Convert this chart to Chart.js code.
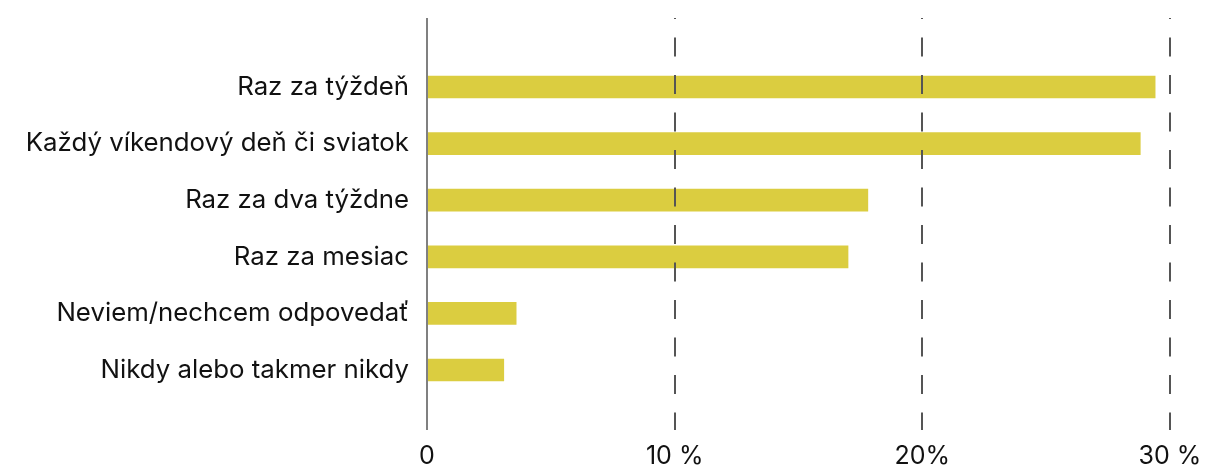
<!DOCTYPE html>
<html lang="sk">
<head>
  <meta charset="UTF-8">
  <title>Frekvencia</title>
  <script src="https://cdn.jsdelivr.net/npm/chart.js"></script>
  <style>
    html, body {
      margin: 0;
      padding: 0;
      background: #fff;
    }
    .wrap {
      width: 1215px;
      height: 470px;
      position: relative;
    }
  </style>
</head>
<body>
  <div class="wrap">
    <canvas id="graf"></canvas>
  </div>

  <script>
    const kategorie = [
      'Raz za týždeň',
      'Každý víkendový deň či sviatok',
      'Raz za dva týždne',
      'Raz za mesiac',
      'Neviem/nechcem odpovedať',
      'Nikdy alebo takmer nikdy'
    ];
    const hodnoty = [29.4, 28.8, 17.8, 17.0, 3.6, 3.1];
    const osX = { 0: '0', 10: '10 %', 20: '20%', 30: '30 %' };

    const pismo = 'Inter, "Noto Sans", sans-serif';

    // mriezka ide cez celu vysku, nie len cez plochu grafu
    const mriezka = {
      id: 'mriezka',
      afterDatasetsDraw(chart) {
        const ctx = chart.ctx;
        const x = chart.scales.x;
        const hore = 18, dole = 430;
        ctx.save();
        ctx.beginPath();
        ctx.rect(0, hore, chart.width, dole - hore);
        ctx.clip();
        x.ticks.forEach(t => {
          const px = Math.round(x.getPixelForValue(t.value));
          ctx.beginPath();
          if (t.value === 0) {
            ctx.setLineDash([]);
            ctx.strokeStyle = '#808080';
          } else {
            ctx.setLineDash([19, 18.5]);
            ctx.strokeStyle = '#555';
          }
          ctx.lineWidth = 2;
          ctx.moveTo(px, 0);
          ctx.lineTo(px, dole);
          ctx.stroke();
        });
        ctx.restore();
      }
    };

    new Chart(document.getElementById('graf'), {
      type: 'bar',
      data: {
        labels: kategorie,
        datasets: [{
          data: hodnoty,
          backgroundColor: '#dbcd40',
          barThickness: 22
        }]
      },
      options: {
        indexAxis: 'y',
        responsive: true,
        maintainAspectRatio: false,
        animation: false,
        layout: { padding: { top: 58.7, right: 45, bottom: 0, left: 0 } },
        plugins: {
          legend: { display: false },
          tooltip: { enabled: false }
        },
        scales: {
          x: {
            min: 0,
            max: 30,
            border: { display: false },
            grid: { display: false, drawTicks: false },
            ticks: {
              stepSize: 10,
              padding: 42.7,
              maxRotation: 0,
              color: '#111',
              font: { family: pismo, size: 25 },
              callback: v => osX[v]
            },
            afterFit(s) {
              s.height = 71.7;
              s.paddingLeft = 0;
              s.paddingRight = 0;
            }
          },
          y: {
            border: { display: false },
            grid: { display: false, drawTicks: false },
            ticks: {
              padding: 18,
              color: '#111',
              font: { family: pismo, size: 25.8 }
            },
            afterFit(s) { s.width = 427; }
          }
        }
      },
      plugins: [mriezka]
    });
  </script>
</body>
</html>
